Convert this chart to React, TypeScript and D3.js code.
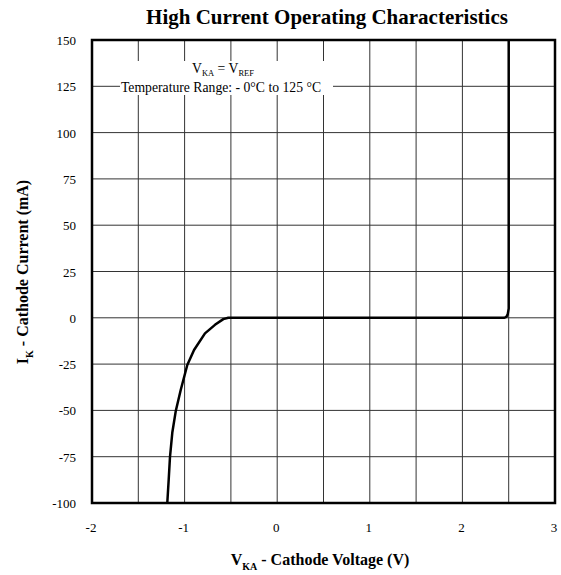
import React, { useRef, useEffect } from 'react';
import * as d3 from 'd3';

// curve
const voltage = [-1.187, -1.172, -1.158, -1.133, -1.096, -1.042, -0.971, -0.898, -0.78, -0.672, -0.582, -0.528, -0.5, 2.45, 2.475, 2.49, 2.5, 2.5];
const current = [-100, -87.6, -75.3, -62.1, -50.5, -39, -25.5, -17.4, -8.4, -3.8, -0.7, 0, 0, 0, 0.5, 2, 5, 150];

const xTicks = [-2, -1, 0, 1, 2, 3];
const yTicks = [-100, -75, -50, -25, 0, 25, 50, 75, 100, 125, 150];
const xGrid = [-1.5, -1, -0.5, 0, 0.5, 1, 1.5, 2, 2.5];

const App: React.FC = () => {
    const svgRef = useRef<SVGSVGElement | null>(null);

    useEffect(() => {
        if (!svgRef.current) return;
        const width = 561;
        const height = 575;
        const left = 92, right = 555, top = 40, bottom = 503;

        const svg = d3.select(svgRef.current);
        svg.selectAll('*').remove();
        svg.attr('width', width).attr('height', height)
            .style('font-family', '"Liberation Serif", "Times New Roman", serif');

        const x = d3.scaleLinear().domain([-2, 3]).range([left, right]);
        const y = d3.scaleLinear().domain([-100, 150]).range([bottom, top]);

        svg.append('rect').attr('width', width).attr('height', height).attr('fill', '#fff');

        // grid
        const grid = svg.append('g').attr('stroke', '#333').attr('stroke-width', 1);
        grid.selectAll('line.v').data(xGrid).join('line')
            .attr('class', 'v')
            .attr('x1', d => x(d)).attr('x2', d => x(d))
            .attr('y1', top).attr('y2', bottom);
        grid.selectAll('line.h').data(yTicks.slice(1, -1)).join('line')
            .attr('class', 'h')
            .attr('x1', left).attr('x2', right)
            .attr('y1', d => y(d)).attr('y2', d => y(d));

        // legend box over grid
        svg.append('rect')
            .attr('x', 120).attr('y', 61).attr('width', 213).attr('height', 34)
            .attr('fill', '#fff');
        const leg = svg.append('g').attr('font-size', 13.7).attr('text-anchor', 'middle').attr('fill', '#000');
        const l1 = leg.append('text').attr('x', 223).attr('y', 73);
        l1.append('tspan').text('V');
        l1.append('tspan').attr('font-size', 8.5).attr('dy', 2.5).text('KA');
        l1.append('tspan').attr('dy', -2.5).text(' = V');
        l1.append('tspan').attr('font-size', 8.5).attr('dy', 2.5).text('REF');
        leg.append('text').attr('x', 221).attr('y', 92).text('Temperature Range: - 0°C to 125 °C');

        // curve
        const line = d3.line<number>()
            .x(i => x(voltage[i]))
            .y(i => y(current[i]));
        svg.append('path')
            .datum(d3.range(voltage.length))
            .attr('d', line)
            .attr('fill', 'none')
            .attr('stroke', '#000')
            .attr('stroke-width', 2.5)
            .attr('stroke-linejoin', 'round');

        // frame
        svg.append('rect')
            .attr('x', left).attr('y', top)
            .attr('width', right - left).attr('height', bottom - top)
            .attr('fill', 'none').attr('stroke', '#000').attr('stroke-width', 2.5);

        // tick labels
        svg.append('g').attr('font-size', 13).attr('text-anchor', 'end')
            .selectAll('text').data(yTicks).join('text')
            .attr('x', 76).attr('y', d => y(d) + 5)
            .text(d => d);
        svg.append('g').attr('font-size', 13).attr('text-anchor', 'middle')
            .selectAll('text').data(xTicks).join('text')
            .attr('x', d => x(d) - 1).attr('y', 532)
            .text(d => d);

        // title
        svg.append('text')
            .attr('x', 327).attr('y', 24)
            .attr('text-anchor', 'middle').attr('font-size', 21).attr('font-weight', 'bold')
            .text('High Current Operating Characteristics');

        // x label
        const xl = svg.append('text')
            .attr('x', 320).attr('y', 565)
            .attr('text-anchor', 'middle').attr('font-size', 16).attr('font-weight', 'bold');
        xl.append('tspan').text('V');
        xl.append('tspan').attr('font-size', 10).attr('dy', 5).text('KA');
        xl.append('tspan').attr('dy', -5).text(' - Cathode Voltage (V)');

        // y label
        const yl = svg.append('text')
            .attr('transform', 'translate(28,272) rotate(-90)')
            .attr('text-anchor', 'middle').attr('font-size', 16).attr('font-weight', 'bold');
        yl.append('tspan').text('I');
        yl.append('tspan').attr('font-size', 10).attr('dy', 5).text('K');
        yl.append('tspan').attr('dy', -5).text(' - Cathode Current (mA)');
    }, []);

    return <svg ref={svgRef} width="561" height="575" style={{ position: 'absolute', left: 0, top: 0 }} />;
};

export default App;
